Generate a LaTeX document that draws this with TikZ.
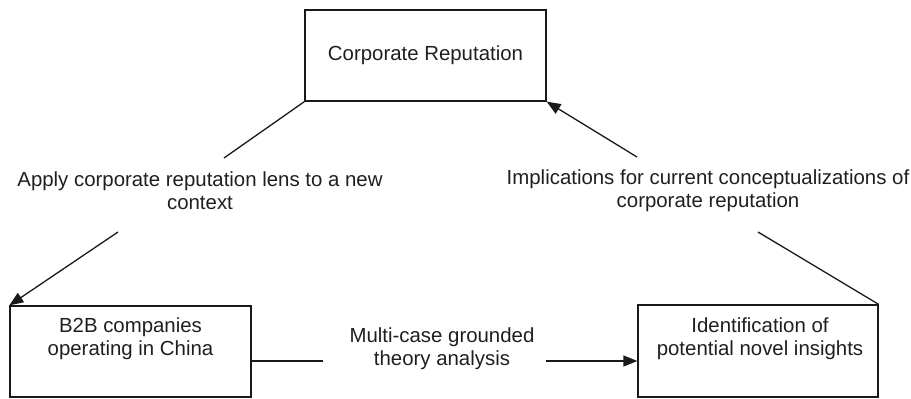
\documentclass[tikz,border=0pt]{standalone}
\usepackage{fontspec}
\setmainfont{Liberation Sans}
\usetikzlibrary{arrows.meta}
\begin{document}
\begin{tikzpicture}[x=1pt,y=-1pt,
  every node/.style={font=\fontsize{20.4}{22.5}\selectfont, text=black!88},
  boxst/.style={draw=black!90, line width=1.3pt, inner sep=0pt},
  txtst/.style={align=center, inner sep=0pt, anchor=north},
  conn/.style={draw=black!90, line width=1.3pt},
  tip/.style={-{Triangle[length=14pt,width=11pt]}}
]
\useasboundingbox (0,0) rectangle (911,399);
% boxes
\node[boxst, minimum width=241pt, minimum height=91pt] (cr) at (425.5,55.5) {Corporate Reputation};
\node[boxst, minimum width=241pt, minimum height=91pt] (b2b) at (130.5,351.5) {};
\node[boxst, minimum width=240pt, minimum height=92pt] (id) at (758,351) {};
% box texts
\node[txtst] (b2bt) at (130.5,318) {B2B companies\\operating in China};
\node[txtst] (idt) at (760,318) {Identification of\\potential novel insights};
% labels
\node[txtst] (apply) at (200,172) {Apply corporate reputation lens to a new\\context};
\node[txtst] (impl) at (708,170) {Implications for current conceptualizations of\\corporate reputation};
\node[txtst] (multi) at (442,328) {Multi-case grounded\\theory analysis};
% connector break points
\coordinate (la1) at (224,158);
\coordinate (la2) at (118,232);
\coordinate (ri1) at (758,232);
\coordinate (ri2) at (637,157);
\coordinate (m1) at (323,361);
\coordinate (m2) at (546,361);
% connectors
\draw[conn] (cr.south west) -- (la1);
\draw[conn, tip] (la2) -- (b2b.north west);
\draw[conn] (id.north east) -- (ri1);
\draw[conn, tip] (ri2) -- (cr.south east);
\draw[conn] (b2b.east |- m1) -- (m1);
\draw[conn, tip] (m2) -- (id.west |- m2);
\end{tikzpicture}
\end{document}
